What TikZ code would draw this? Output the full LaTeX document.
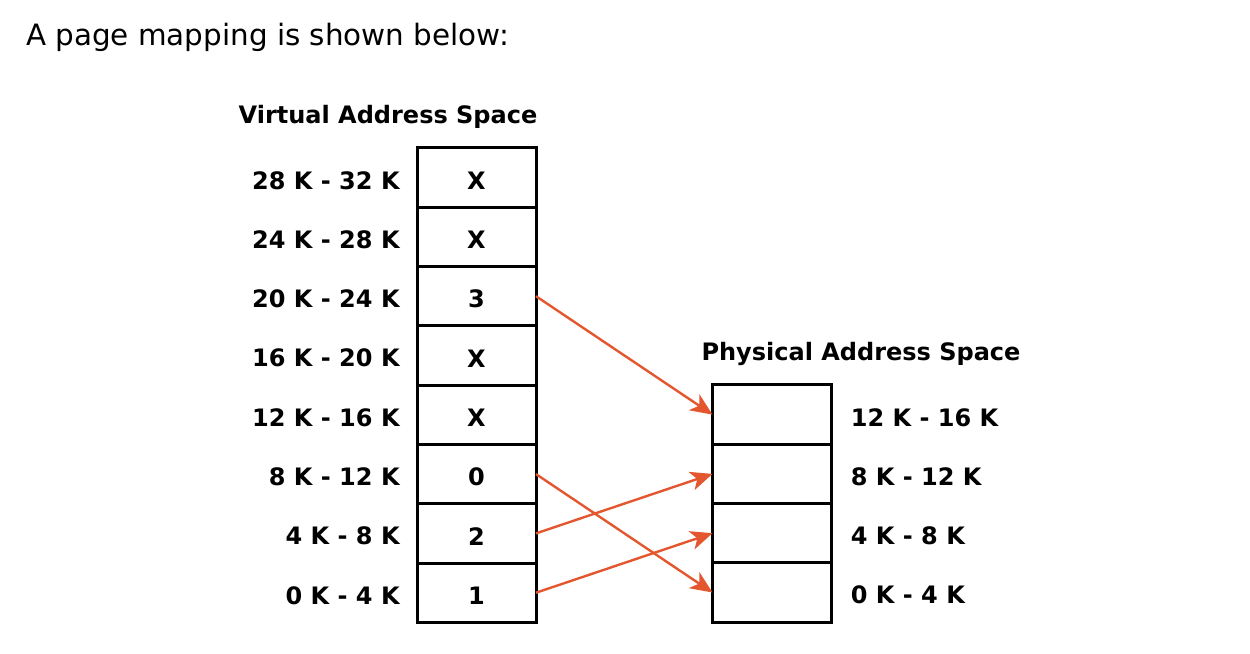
\documentclass[tikz,border=0pt]{standalone}
\usepackage{fontspec}
\setmainfont{DejaVu Sans}
\usepackage{xcolor}
\usetikzlibrary{arrows.meta, positioning}

\definecolor{maparrow}{RGB}{228,87,46}

\begin{document}
\begin{tikzpicture}[x=0.5pt, y=-0.5pt, node distance=0pt,
    every node/.style={align=center, text height=11.6pt, font=\fontsize{12}{14}\selectfont\bfseries},
    page/.style={draw, line width=1.5pt, rectangle, outer sep=0pt, minimum width=59.5pt, minimum height=29.65pt},
    rangelabel/.style={inner sep=0pt},
    map/.style={draw=maparrow, line width=1.2pt, -{Stealth[length=11pt, width=9.5pt, inset=3pt]}}]
        \useasboundingbox (0,0) rectangle (1250,654);
        \node (intro) [anchor=west, text height=14pt, font=\fontsize{14.7}{17}\selectfont] at (19,35) {A page mapping is shown below:};

        % virtual address space
        \node (virt7) [page] at (476.5,177.6) {X};
        \node (virt6) [page, below=of virt7] {X};
        \node (virt5) [page, below=of virt6] {3};
        \node (virt4) [page, below=of virt5] {X};
        \node (virt3) [page, below=of virt4] {X};
        \node (virt2) [page, below=of virt3] {0};
        \node (virt1) [page, below=of virt2] {2};
        \node (virt0) [page, below=of virt1] {1};
        \node (virttitle) at (388,114) {Virtual Address Space};

        \node (vr7) [rangelabel, left=8.5pt of virt7] {28 K - 32 K};
        \node (vr6) [rangelabel, left=8.5pt of virt6] {24 K - 28 K};
        \node (vr5) [rangelabel, left=8.5pt of virt5] {20 K - 24 K};
        \node (vr4) [rangelabel, left=8.5pt of virt4] {16 K - 20 K};
        \node (vr3) [rangelabel, left=8.5pt of virt3] {12 K - 16 K};
        \node (vr2) [rangelabel, left=8.5pt of virt2] {8 K - 12 K};
        \node (vr1) [rangelabel, left=8.5pt of virt1] {4 K - 8 K};
        \node (vr0) [rangelabel, left=8.5pt of virt0] {0 K - 4 K};

        % physical address space
        \node (phys3) [page] at (772,414.6) {};
        \node (phys2) [page, below=of phys3] {};
        \node (phys1) [page, below=of phys2] {};
        \node (phys0) [page, below=of phys1] {};
        \node (phystitle) at (861,351) {Physical Address Space};

        \node (pr3) [rangelabel, right=9.5pt of phys3] {12 K - 16 K};
        \node (pr2) [rangelabel, right=9.5pt of phys2] {8 K - 12 K};
        \node (pr1) [rangelabel, right=9.5pt of phys1] {4 K - 8 K};
        \node (pr0) [rangelabel, right=9.5pt of phys0] {0 K - 4 K};

        \draw[map] (virt5.east) -- (phys3.west);
        \draw[map] (virt2.east) -- (phys0.west);
        \draw[map] (virt1.east) -- (phys2.west);
        \draw[map] (virt0.east) -- (phys1.west);
    \end{tikzpicture}
\end{document}
